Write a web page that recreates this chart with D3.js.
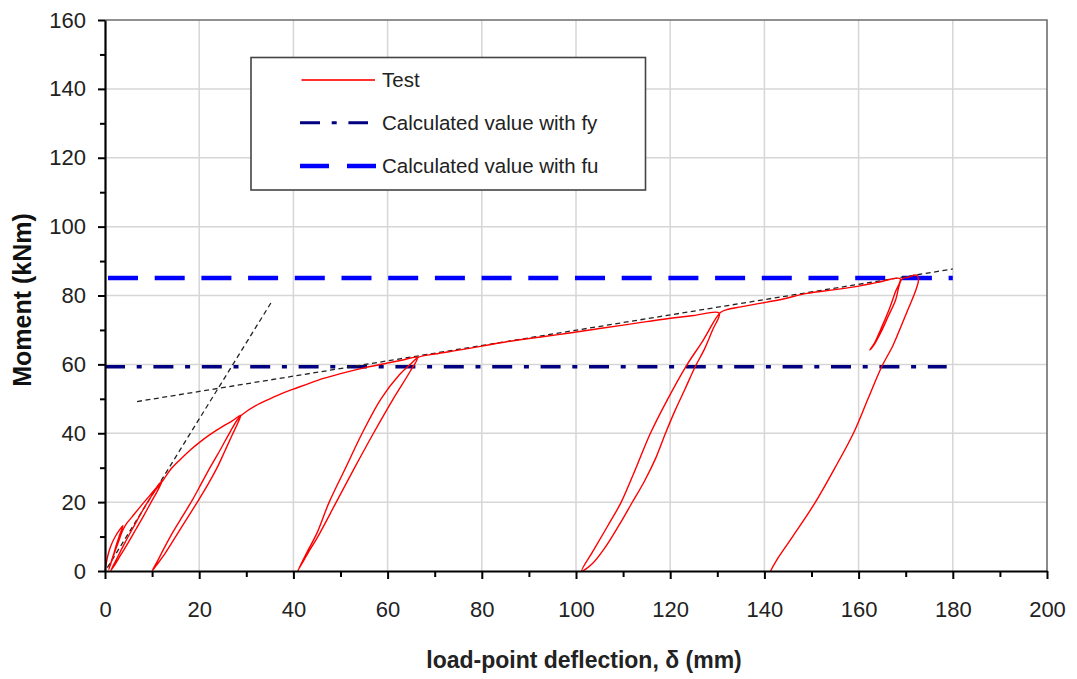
<!DOCTYPE html>
<html>
<head>
<meta charset="utf-8">
<script src="https://cdn.jsdelivr.net/npm/d3@7"></script>
<style>
  html, body { margin: 0; padding: 0; background: #ffffff; }
  svg { display: block; font-family: "Liberation Sans", Arial, sans-serif; }
</style>
</head>
<body>
<svg id="chart" width="1077" height="679"></svg>
<script>
// Axis ticks
const xMajorTicks = [0, 20, 40, 60, 80, 100, 120, 140, 160, 180, 200];
const xMinorTicks = [10, 30, 50, 70, 90, 110, 130, 150, 170, 190];
const yMajorTicks = [0, 20, 40, 60, 80, 100, 120, 140, 160];
const yMinorTicks = [10, 30, 50, 70, 90, 110, 130, 150];

// Measured moment-deflection response, [deflection (mm), moment (kNm)]
const testCurve = [
  // first loading with small cycles
  [0,0],[0.3,2.5],[0.7,5],[1.3,7.5],[2.1,9.8],[3,11.8],[3.8,13.2],
  [3.2,10.8],[2.5,8],[1.9,5.2],[1.3,2.6],[0.8,0.4],
  [1.4,2.8],[2.1,5.6],[2.9,8.6],[3.7,11.6],[4.6,13.8],[5.8,15.8],[7.2,18.2],[8.8,20.8],[10.5,23.5],[12.2,26.3],
  [11.2,23.4],[9.8,20],[8.2,16],[6.6,12.2],[5,8.4],[3.4,4.8],[2,1.6],[1.2,0],
  [2.4,3.3],[4.3,8.4],[6.3,13.4],[8.3,18.3],[10.4,22.9],[12.4,26.5],
  // envelope to first large cycle
  [14,29.6],[16,32.4],[18,35],[20.2,37.5],[22.5,39.8],[25,42],[27,43.6],[28.8,45.2],
  [28.2,43],[27,39.5],[25.5,35],[23.8,30],[21.8,25],[19.6,20],[17.3,15],[15,10],[12.8,5.2],[11,1.8],[10,0],
  [11,2.5],[12.5,6.5],[14.5,11.5],[16.5,16],[18.5,20.5],[20.5,25.5],[22.5,30.5],[24.6,35.5],[26.6,40.5],[28.3,44.3],[29.3,45.6],
  // envelope to second large cycle
  [32,48],[35,50],[38,51.8],[40,52.8],[45,55.3],[50,57.3],[55,59],[60,60.4],[63,61.2],[66.3,62],
  [64.8,58],[61.2,50],[57,40],[53,30],[49.1,20],[45.2,10],[43,5],[40.9,0],
  [42.9,5.5],[45,11],[47.6,20],[51.1,30],[54.6,40],[58.6,50],[62.5,57],[64.8,60],[66.6,62.1],
  // envelope to third large cycle
  [70,63],[75.4,64.2],[80,65.3],[85,66.5],[90,67.5],[96.6,68.7],[100,69.4],[105,70.4],
  [110,71.4],[115,72.4],[120,73.4],[125,74.2],[130.4,74.9],
  [129,70],[127.3,64.5],[125.3,59.3],[123.2,53],[121,46.5],[119,40],[117,33],[114.5,26],
  [111.8,19.6],[109,13],[106,6.5],[103.5,2.2],[101.2,0],
  [103.7,6],[106.7,13],[109.6,20],[112.6,29.5],[115.8,40],[119.5,50],[123.3,59.3],[127,67],[130.6,75],
  // envelope to partial cycle and final unloading
  [132,75.9],[135,76.7],[139,77.7],[144,79],[149,80.6],[155,81.7],[160.3,82.8],[164,83.8],[168.8,84.9],
  [167.8,81],[166.5,76],[164.8,70.5],[163.3,66],[162.4,64.2],
  [163.2,65.5],[164.8,69.5],[166.3,74],[167.8,78.5],[169.2,84.8],
  [170.5,85.3],[172.3,85.9],
  [172.7,84.5],[172,81],[170.5,76],[169,71],[167.3,65.5],[164.9,59.3],[162,50],[158.9,40],
  [155,30],[150.7,19.7],[146,10],[143,4],[141.3,0]
];

// Calculated resistances (kNm) and the extent of their reference lines (mm)
const momentFy = 59.3;
const momentFu = 85.1;
const fyRange = [0, 178.7];
const fuRange = [0, 180];

// Bilinear construction lines: initial stiffness and hardening branch
const stiffnessLine = [[0.5, 1], [35.3, 78]];
const hardeningLine = [[6.8, 49.2], [180, 87.7]];

const legendLabels = ["Test", "Calculated value with fy", "Calculated value with fu"];

const svg = d3.select("#chart");
const x = d3.scaleLinear().domain([0, 200]).range([105, 1047]);
const y = d3.scaleLinear().domain([0, 160]).range([571, 20]);

// Gridlines
const grid = svg.append("g");
grid.selectAll("line.vx").data(xMajorTicks.filter(d => d > 0 && d < 200)).enter()
  .append("line").attr("x1", d => x(d)).attr("x2", d => x(d))
  .attr("y1", y(0)).attr("y2", y(160))
  .attr("stroke", "#d6d6d6").attr("stroke-width", 1.5);
grid.selectAll("line.hy").data(yMajorTicks.filter(d => d > 0 && d < 160)).enter()
  .append("line").attr("x1", x(0)).attr("x2", x(200))
  .attr("y1", d => y(d)).attr("y2", d => y(d))
  .attr("stroke", "#d6d6d6").attr("stroke-width", 1.5);

// Plot frame (top and right)
svg.append("path")
  .attr("d", `M${x(0)},${y(160)}H${x(200)}V${y(0)}`)
  .attr("fill", "none").attr("stroke", "#6e6e6e").attr("stroke-width", 1.6);

// Reference lines
const line = d3.line().x(d => x(d[0])).y(d => y(d[1]));
svg.append("path")
  .attr("d", line([[fyRange[0], momentFy], [fyRange[1], momentFy]]))
  .attr("stroke", "#000080").attr("stroke-width", 3.5).attr("fill", "none")
  .attr("stroke-dasharray", "20,11.7,5,11.7");
svg.append("path")
  .attr("d", line([[fuRange[0], momentFu], [fuRange[1], momentFu]]))
  .attr("stroke", "#0000ff").attr("stroke-width", 4.5).attr("fill", "none")
  .attr("stroke-dasharray", "30,16.7").attr("stroke-dashoffset", -3);

// Construction lines
[stiffnessLine, hardeningLine].forEach(pts => {
  svg.append("path").attr("d", line(pts))
    .attr("stroke", "#222").attr("stroke-width", 1.3).attr("fill", "none")
    .attr("stroke-dasharray", "5,3.5");
});

// Test curve, smoothed through the measured points
const smoothLine = d3.line().x(d => x(d[0])).y(d => y(d[1]))
  .curve(d3.curveCatmullRom.alpha(0.5));
svg.append("path").attr("d", smoothLine(testCurve))
  .attr("stroke", "#ff0000").attr("stroke-width", 1.4).attr("fill", "none")
  .attr("stroke-linejoin", "round");

// Axes
function styleAxis(g) {
  g.select(".domain").attr("stroke", "#000").attr("stroke-width", 2.2);
  g.selectAll(".tick line").attr("stroke", "#000").attr("stroke-width", 2);
  g.selectAll(".tick text").attr("fill", "#222").style("font-size", "22px")
    .style("font-family", '"Liberation Sans", Arial, sans-serif');
}
svg.append("g").attr("transform", `translate(0,${y(0)})`)
  .call(d3.axisBottom(x).tickValues(xMinorTicks).tickSize(6).tickSizeOuter(0).tickFormat(""))
  .call(g => { g.select(".domain").remove(); g.selectAll(".tick line").attr("stroke", "#000").attr("stroke-width", 2); });
svg.append("g").attr("transform", `translate(${x(0)},0)`)
  .call(d3.axisLeft(y).tickValues(yMinorTicks).tickSize(5).tickSizeOuter(0).tickFormat(""))
  .call(g => { g.select(".domain").remove(); g.selectAll(".tick line").attr("stroke", "#000").attr("stroke-width", 2); });
svg.append("g").attr("transform", `translate(0,${y(0)})`)
  .call(d3.axisBottom(x).tickValues(xMajorTicks).tickSize(8).tickSizeOuter(0).tickPadding(22))
  .call(styleAxis);
svg.append("g").attr("transform", `translate(${x(0)},0)`)
  .call(d3.axisLeft(y).tickValues(yMajorTicks).tickSize(7).tickSizeOuter(0).tickPadding(12))
  .call(styleAxis);

// Axis titles
svg.append("text").attr("x", 584).attr("y", 668).attr("text-anchor", "middle")
  .attr("font-weight", "bold").attr("font-size", 23).attr("fill", "#222")
  .text("load-point deflection, δ (mm)");
svg.append("text").attr("transform", "translate(31,300) rotate(-90)").attr("text-anchor", "middle")
  .attr("font-weight", "bold").attr("font-size", 25).attr("fill", "#111")
  .text("Moment (kNm)");

// Legend
const legend = svg.append("g");
legend.append("rect").attr("x", 251).attr("y", 57.5).attr("width", 394.5).attr("height", 132.5)
  .attr("fill", "#fff").attr("stroke", "#444").attr("stroke-width", 1.6);
const legendY = [80, 122.7, 166];
const legendStyles = [
  { color: "#ff3030", width: 2, dash: null, x1: 301.5, x2: 375 },
  { color: "#000080", width: 3, dash: "20,11.7,5,11.7", x1: 300, x2: 368 },
  { color: "#0000ff", width: 4.5, dash: "29,18", x1: 300, x2: 376.5 }
];
legendLabels.forEach((label, i) => {
  const s = legendStyles[i];
  legend.append("line").attr("x1", s.x1).attr("x2", s.x2)
    .attr("y1", legendY[i]).attr("y2", legendY[i])
    .attr("stroke", s.color).attr("stroke-width", s.width)
    .attr("stroke-dasharray", s.dash);
  legend.append("text").attr("x", 382).attr("y", legendY[i] + 7.2)
    .attr("font-size", 20.5).attr("fill", "#222").text(label);
});
</script>
</body>
</html>
